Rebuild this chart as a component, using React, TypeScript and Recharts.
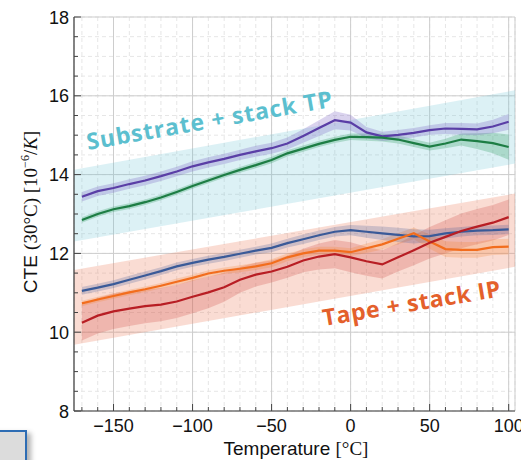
import React from "react";
import {
  ComposedChart,
  XAxis,
  YAxis,
  Area,
  Line,
  CartesianGrid,
} from "recharts";

// temperature grid (°C)
const temps = [
  -170, -160, -150, -140, -130, -120, -110, -100, -90, -80, -70, -60, -50, -40,
  -30, -20, -10, 0, 10, 20, 30, 40, 50, 60, 70, 80, 90, 100,
];

// CTE values, 10^-6/K
const purple = [
  13.44, 13.58, 13.66, 13.76, 13.85, 13.96, 14.08, 14.21, 14.31, 14.4, 14.5,
  14.59, 14.67, 14.79, 14.98, 15.18, 15.38, 15.32, 15.07, 14.97, 15.01, 15.06,
  15.13, 15.17, 15.16, 15.15, 15.22, 15.34,
];
const green = [
  12.85, 13.0, 13.12, 13.2, 13.3, 13.42, 13.56, 13.71, 13.85, 13.99, 14.12,
  14.24, 14.37, 14.54, 14.66, 14.78, 14.88, 14.96, 14.95, 14.94, 14.89, 14.8,
  14.71, 14.79, 14.89, 14.85, 14.8, 14.7,
];
const blue = [
  11.05, 11.13, 11.22, 11.33, 11.44, 11.55, 11.67, 11.76, 11.84, 11.91, 11.99,
  12.07, 12.14, 12.26, 12.36, 12.46, 12.55, 12.59, 12.55, 12.51, 12.47, 12.43,
  12.44, 12.51, 12.55, 12.58, 12.59, 12.61,
];
const orange = [
  10.73, 10.83, 10.92, 11.01, 11.09, 11.18, 11.28, 11.38, 11.49, 11.56, 11.61,
  11.67, 11.75, 11.9, 12.0, 12.07, 12.07, 12.03, 12.13, 12.23, 12.37, 12.51,
  12.3, 12.11, 12.09, 12.09, 12.16, 12.17,
];
const red = [
  10.24, 10.42, 10.53, 10.6, 10.66, 10.7, 10.78, 10.9, 11.01, 11.14, 11.33,
  11.46, 11.54, 11.66, 11.82, 11.92, 11.98, 11.9, 11.8, 11.72, 11.9, 12.08,
  12.27, 12.42, 12.57, 12.68, 12.78, 12.92,
];

// half-width of the shaded band around each curve
const purpleSpread = [
  0.12, 0.12, 0.12, 0.12, 0.12, 0.12, 0.12, 0.13, 0.13, 0.13, 0.13, 0.14, 0.14,
  0.15, 0.17, 0.2, 0.23, 0.2, 0.14, 0.12, 0.12, 0.12, 0.12, 0.14, 0.15, 0.15,
  0.17, 0.2,
];
const greenSpread = [
  0.07, 0.07, 0.07, 0.07, 0.07, 0.07, 0.07, 0.07, 0.07, 0.07, 0.07, 0.08, 0.08,
  0.08, 0.08, 0.08, 0.08, 0.08, 0.09, 0.1, 0.1, 0.1, 0.1, 0.12, 0.15, 0.2,
  0.26, 0.32,
];
const blueSpread = [
  0.1, 0.1, 0.1, 0.1, 0.1, 0.1, 0.1, 0.1, 0.1, 0.1, 0.1, 0.1, 0.11, 0.11, 0.12,
  0.12, 0.12, 0.13, 0.15, 0.17, 0.18, 0.18, 0.16, 0.13, 0.12, 0.12, 0.12, 0.12,
];
const orangeSpread = [
  0.07, 0.07, 0.07, 0.07, 0.07, 0.07, 0.08, 0.08, 0.08, 0.08, 0.09, 0.09, 0.1,
  0.1, 0.1, 0.1, 0.1, 0.1, 0.12, 0.13, 0.14, 0.15, 0.18, 0.2, 0.2, 0.2, 0.2,
  0.2,
];
const redSpread = [
  0.45, 0.45, 0.45, 0.44, 0.43, 0.42, 0.42, 0.42, 0.4, 0.37, 0.33, 0.3, 0.28,
  0.28, 0.3, 0.33, 0.36, 0.38, 0.37, 0.36, 0.36, 0.38, 0.4, 0.42, 0.44, 0.45,
  0.45, 0.45,
];

// wide linear bands, given at the plot edges
const bandTemps = [-175, 104];
const substrateLow = [12.3, 14.28];
const substrateHigh = [14.12, 16.14];
const tapeLow = [9.68, 11.66];
const tapeHigh = [11.58, 13.52];

// axis ticks
const xTicks = [
  -170, -160, -150, -140, -130, -120, -110, -100, -90, -80, -70, -60, -50, -40,
  -30, -20, -10, 0, 10, 20, 30, 40, 50, 60, 70, 80, 90, 100,
];
const majorXTicks = [-150, -100, -50, 0, 50, 100];
const yTicks = [
  8, 8.5, 9, 9.5, 10, 10.5, 11, 11.5, 12, 12.5, 13, 13.5, 14, 14.5, 15, 15.5,
  16, 16.5, 17, 17.5, 18,
];
const majorYTicks = [8, 10, 12, 14, 16, 18];

const band = (v: number, s: number) => [
  +(v - s).toFixed(3),
  +(v + s).toFixed(3),
];

const rows = [
  {
    t: bandTemps[0],
    substrate: [substrateLow[0], substrateHigh[0]],
    tape: [tapeLow[0], tapeHigh[0]],
  },
  ...temps.map((t, i) => ({
    t,
    purple: purple[i],
    green: green[i],
    blue: blue[i],
    orange: orange[i],
    red: red[i],
    purpleBand: band(purple[i], purpleSpread[i]),
    greenBand: band(green[i], greenSpread[i]),
    blueBand: band(blue[i], blueSpread[i]),
    orangeBand: band(orange[i], orangeSpread[i]),
    redBand: band(red[i], redSpread[i]),
  })),
  {
    t: bandTemps[1],
    substrate: [substrateLow[1], substrateHigh[1]],
    tape: [tapeLow[1], tapeHigh[1]],
  },
];

const FRAME = "#444";
const sans = "'Liberation Sans', Arial, sans-serif";
const serif = "'Liberation Serif', 'DejaVu Serif', serif";
const fmt = (v: number) => (v < 0 ? "\u2212" + Math.abs(v) : String(v));

const makeTick =
  (side: "bottom" | "top" | "left" | "right") =>
  ({ x, y, payload }: any) => {
    const v = payload.value;
    const major =
      side === "bottom" || side === "top"
        ? majorXTicks.includes(v)
        : majorYTicks.includes(v);
    const len = major ? 7 : 4;
    let line;
    if (side === "bottom") line = <line x1={x} x2={x} y1={y} y2={y - len} />;
    else if (side === "top") line = <line x1={x} x2={x} y1={y} y2={y + len} />;
    else if (side === "left") line = <line x1={x} x2={x + len} y1={y} y2={y} />;
    else line = <line x1={x} x2={x - len} y1={y} y2={y} />;
    return (
      <g>
        <g stroke={FRAME} strokeWidth={1}>{line}</g>
        {major && side === "bottom" && (
          <text
            x={x}
            y={y + 21}
            textAnchor="middle"
            fontSize={18}
            fontFamily={sans}
            fill="#111"
          >
            {fmt(v)}
          </text>
        )}
        {major && side === "left" && (
          <text
            x={x - 5}
            y={y + 6.5}
            textAnchor="end"
            fontSize={18}
            fontFamily={sans}
            fill="#111"
          >
            {fmt(v)}
          </text>
        )}
      </g>
    );
  };

const bandProps = {
  type: "linear" as const,
  stroke: "none",
  isAnimationActive: false,
  dot: false,
  activeDot: false,
};
const lineProps = {
  type: "linear" as const,
  strokeWidth: 2.2,
  dot: false,
  activeDot: false,
  isAnimationActive: false,
};

export default function App() {
  return (
    <div
      style={{
        position: "fixed",
        left: 0,
        top: 0,
        width: 521,
        height: 460,
        background: "#fff",
        overflow: "hidden",
      }}
    >
      <ComposedChart
        width={521}
        height={460}
        data={rows}
        margin={{ top: 17, right: 6, bottom: 0, left: 0 }}
      >
        {/* minor grid at every tick, major grid from hidden axes */}
        <CartesianGrid stroke="#e6e6e6" strokeDasharray="4 3" />
        <CartesianGrid stroke="#cdcdcd" xAxisId="major" yAxisId="major" />
        <XAxis
          xAxisId="major"
          dataKey="t"
          type="number"
          domain={[-175, 104]}
          allowDataOverflow
          ticks={majorXTicks}
          interval={0}
          hide
        />
        <YAxis
          yAxisId="major"
          type="number"
          domain={[8, 18]}
          allowDataOverflow
          ticks={majorYTicks}
          interval={0}
          hide
        />
        <XAxis
          dataKey="t"
          type="number"
          domain={[-175, 104]}
          allowDataOverflow
          ticks={xTicks}
          interval={0}
          height={49}
          tickSize={0}
          tickMargin={0}
          tick={makeTick("bottom")}
          axisLine={{ stroke: FRAME, strokeWidth: 1.2 }}
        />
        <XAxis
          xAxisId="top"
          orientation="top"
          dataKey="t"
          type="number"
          domain={[-175, 104]}
          allowDataOverflow
          ticks={xTicks}
          interval={0}
          height={0}
          tickSize={0}
          tickMargin={0}
          tick={makeTick("top")}
          axisLine={{ stroke: FRAME, strokeWidth: 1.2 }}
        />
        <YAxis
          type="number"
          domain={[8, 18]}
          allowDataOverflow
          ticks={yTicks}
          interval={0}
          width={74}
          tickSize={0}
          tickMargin={0}
          tick={makeTick("left")}
          axisLine={{ stroke: FRAME, strokeWidth: 1.2 }}
        />
        <YAxis
          yAxisId="right"
          orientation="right"
          type="number"
          domain={[8, 18]}
          allowDataOverflow
          ticks={yTicks}
          interval={0}
          width={0}
          tickSize={0}
          tickMargin={0}
          tick={makeTick("right")}
          axisLine={{ stroke: FRAME, strokeWidth: 1.2 }}
        />

        <Area dataKey="substrate" {...bandProps} fill="#6cc6d4" fillOpacity={0.24} connectNulls />
        <Area dataKey="tape" {...bandProps} fill="#ef8a6c" fillOpacity={0.3} connectNulls />
        <Area dataKey="redBand" {...bandProps} fill="#c8342c" fillOpacity={0.22} />
        <Area dataKey="orangeBand" {...bandProps} fill="#f57c20" fillOpacity={0.22} />
        <Area dataKey="blueBand" {...bandProps} fill="#4a5e9a" fillOpacity={0.25} />
        <Area dataKey="greenBand" {...bandProps} fill="#2f9a5c" fillOpacity={0.28} />
        <Area dataKey="purpleBand" {...bandProps} fill="#7a62c2" fillOpacity={0.28} />

        <Line dataKey="purple" {...lineProps} stroke="#5a3ea6" />
        <Line dataKey="green" {...lineProps} stroke="#1d7d44" />
        <Line dataKey="blue" {...lineProps} stroke="#3a5a98" />
        <Line dataKey="orange" {...lineProps} stroke="#f26d1d" />
        <Line dataKey="red" {...lineProps} stroke="#b81e24" />
      </ComposedChart>

      <svg
        width={521}
        height={460}
        style={{ position: "absolute", left: 0, top: 0, pointerEvents: "none" }}
      >
        <text
          x={88}
          y={150}
          transform="rotate(-10 88 150)"
          fontFamily="'Open Sans', sans-serif"
          fontWeight={700}
          fontSize={23}
          fill="#5cbfcf"
          textLength={249}
          lengthAdjust="spacing"
        >
          Substrate + stack TP
        </text>
        <text
          x={324}
          y={326}
          transform="rotate(-9.5 324 326)"
          fontFamily="'Open Sans', sans-serif"
          fontWeight={700}
          fontSize={23}
          fill="#e4602b"
          textLength={180}
          lengthAdjust="spacing"
        >
          Tape + stack IP
        </text>

        <text
          transform="translate(37 212) rotate(-90)"
          textAnchor="middle"
          fontSize={19}
          fill="#111"
        >
          <tspan fontFamily={sans}>CTE </tspan>
          <tspan fontFamily={serif}>(30°C) [10</tspan>
          <tspan fontFamily={serif} fontSize={12} dy={-8}>
            −6
          </tspan>
          <tspan fontFamily={serif} dy={8}>
            /
          </tspan>
          <tspan fontFamily={serif} fontStyle="italic">
            K
          </tspan>
          <tspan fontFamily={serif}>]</tspan>
        </text>
        <text x={296} y={455} textAnchor="middle" fontSize={19} fill="#111">
          <tspan fontFamily={sans}>Temperature </tspan>
          <tspan fontFamily={serif}>[°C]</tspan>
        </text>
      </svg>

      <div
        style={{
          position: "absolute",
          left: -10,
          top: 430,
          width: 37,
          height: 40,
          boxSizing: "border-box",
          background: "#dcdcdc",
          border: "2px solid #2e6db4",
          boxShadow: "4px 3px 5px rgba(0,0,0,0.3)",
        }}
      />
    </div>
  );
}
